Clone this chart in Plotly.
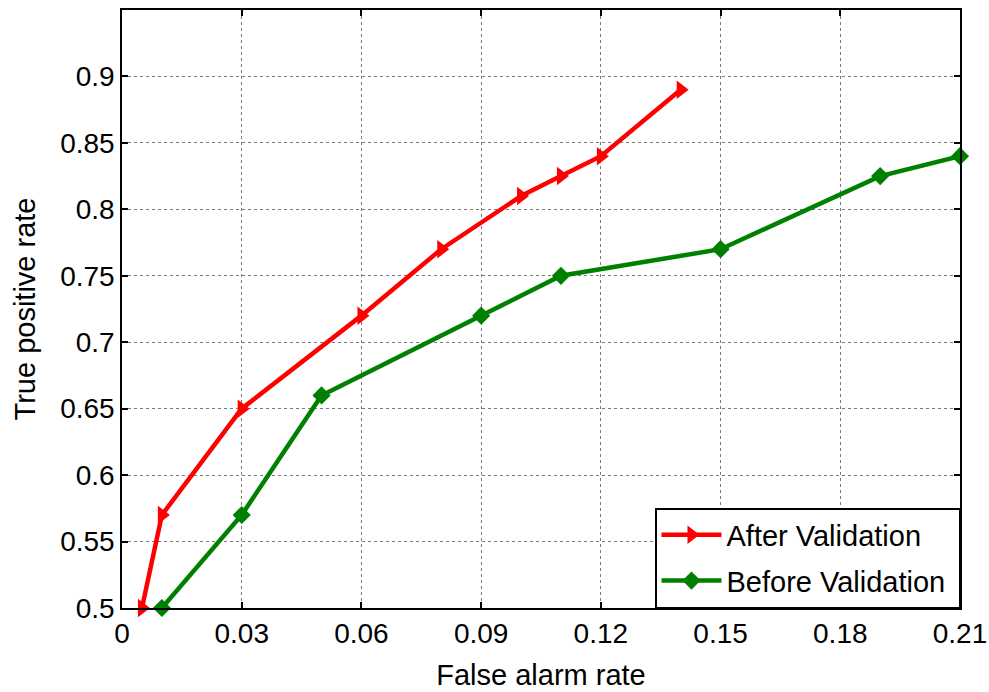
import plotly.graph_objects as go

after_x = [0.005, 0.01, 0.03, 0.06, 0.08, 0.10, 0.11, 0.12, 0.14]
after_y = [0.50, 0.57, 0.65, 0.72, 0.77, 0.81, 0.825, 0.84, 0.89]
before_x = [0.01, 0.03, 0.05, 0.09, 0.11, 0.15, 0.19, 0.21]
before_y = [0.50, 0.57, 0.66, 0.72, 0.75, 0.77, 0.825, 0.84]
x_ticks = [0, 0.03, 0.06, 0.09, 0.12, 0.15, 0.18, 0.21]
x_labels = ["0", "0.03", "0.06", "0.09", "0.12", "0.15", "0.18", "0.21"]
y_ticks = [0.5, 0.55, 0.6, 0.65, 0.7, 0.75, 0.8, 0.85, 0.9]
y_labels = ["0.5", "0.55", "0.6", "0.65", "0.7", "0.75", "0.8", "0.85", "0.9"]

FONT = "Liberation Sans, Arial, sans-serif"

fig = go.Figure()
fig.add_trace(go.Scatter(x=after_x, y=after_y, mode="lines+markers", name="After Validation\u00a0",
                         legendgroup="a",
                         line=dict(color="#ff0000", width=4.5),
                         marker=dict(symbol="triangle-right", size=16, color="#ff0000"),
                         cliponaxis=False))
fig.add_trace(go.Scatter(x=before_x, y=before_y, mode="lines+markers", name="Before Validation\u00a0",
                         legendgroup="b",
                         line=dict(color="#008000", width=4.5),
                         marker=dict(symbol="diamond", size=14, color="#008000"),
                         cliponaxis=False))

axis_common = dict(showline=True, linecolor="black", linewidth=1.5, mirror="ticks",
                   ticks="inside", ticklen=6, tickcolor="black", tickwidth=1.5,
                   showgrid=True, gridcolor="#7a7a7a", griddash="dot", gridwidth=1,
                   zeroline=False, tickfont=dict(family=FONT, size=28, color="black"))

fig.update_xaxes(range=[0, 0.21], tickvals=x_ticks, ticktext=x_labels,
                 title=dict(text="False alarm rate", font=dict(family=FONT, size=29, color="black"), standoff=16),
                 **axis_common)
fig.update_yaxes(range=[0.5, 0.95], tickvals=y_ticks, ticktext=y_labels,
                 title=dict(text="True positive rate", font=dict(family=FONT, size=29, color="black"), standoff=16),
                 **axis_common)

fig.update_layout(width=989, height=692, paper_bgcolor="white", plot_bgcolor="white",
                  margin=dict(l=122, r=29, t=10, b=84, autoexpand=False),
                  showlegend=True, hovermode=False,
                  legend=dict(x=1, y=0, xanchor="right", yanchor="bottom",
                              bgcolor="white", bordercolor="black", borderwidth=1.5,
                              font=dict(family=FONT, size=29, color="black"),
                              itemwidth=60, tracegroupgap=5))
fig.write_html("out.html", config={"displayModeBar": False},
               post_script="document.body.style.margin='0';document.body.style.overflow='hidden';")
